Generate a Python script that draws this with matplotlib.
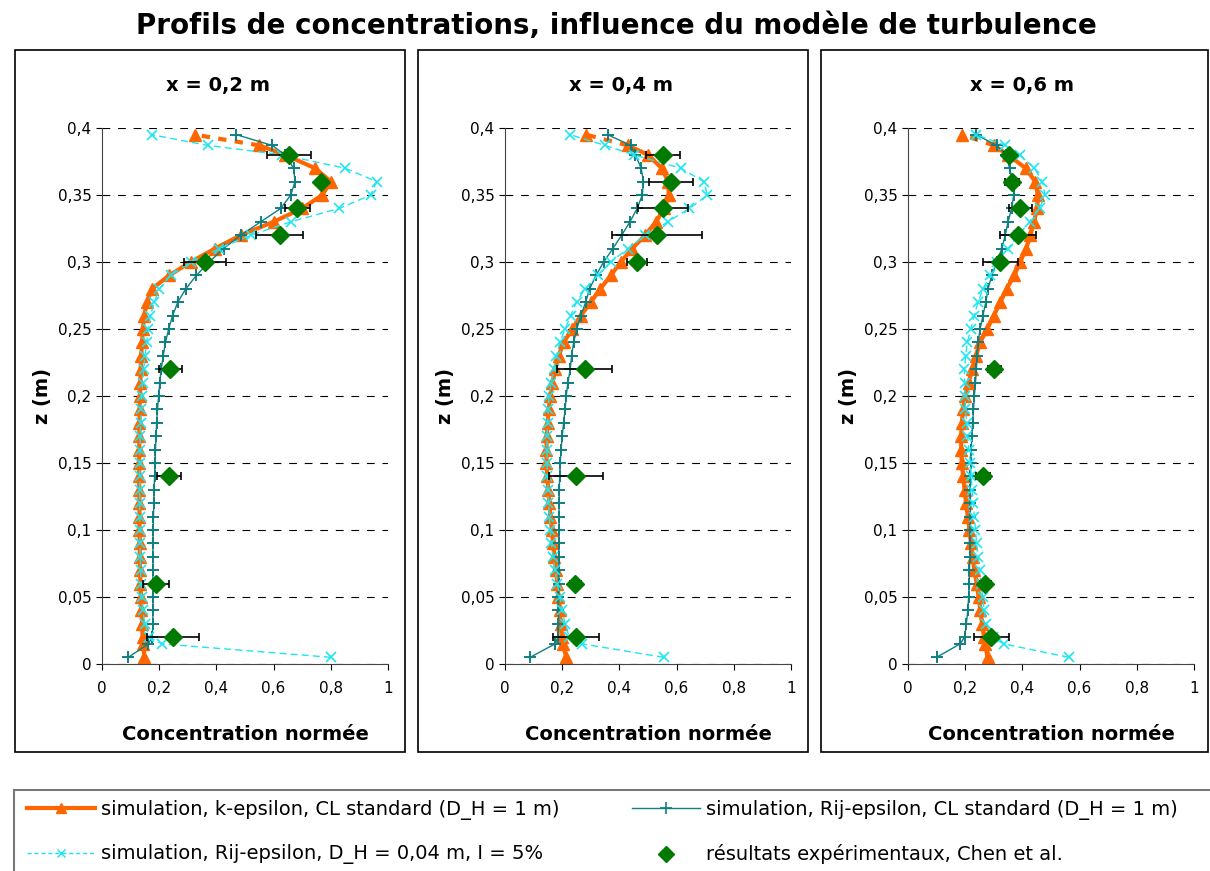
import matplotlib
matplotlib.use('Agg')
import matplotlib.pyplot as plt
from matplotlib.lines import Line2D
from matplotlib.patches import Rectangle
from matplotlib.ticker import MultipleLocator, FuncFormatter

plt.rcParams['font.family'] = 'DejaVu Sans'

# ---- data ----
Z = [0.005, 0.015, 0.02, 0.03, 0.04, 0.05, 0.06, 0.07, 0.08, 0.09, 0.10,
     0.11, 0.12, 0.13, 0.14, 0.15, 0.16, 0.17, 0.18, 0.19, 0.20, 0.21,
     0.22, 0.23, 0.24, 0.25, 0.26, 0.27, 0.28, 0.29, 0.30, 0.31, 0.32,
     0.33, 0.34, 0.35, 0.36, 0.37, 0.38, 0.387, 0.395]

# x = 0,2 m
K_EPS_02 = [0.148, 0.145, 0.142, 0.140, 0.138, 0.136, 0.134, 0.133, 0.132, 0.132, 0.131,
            0.131, 0.131, 0.130, 0.130, 0.130, 0.130, 0.131, 0.131, 0.132, 0.133, 0.134,
            0.135, 0.137, 0.140, 0.143, 0.148, 0.157, 0.175, 0.235, 0.310, 0.395, 0.485,
            0.600, 0.700, 0.770, 0.800, 0.745, 0.640, 0.550, 0.325]
RIJ_02 = [0.092, 0.162, 0.175, 0.178, 0.178, 0.178, 0.178, 0.178, 0.178, 0.178, 0.179,
          0.180, 0.181, 0.182, 0.184, 0.185, 0.187, 0.189, 0.191, 0.194, 0.198, 0.202,
          0.207, 0.214, 0.222, 0.233, 0.247, 0.265, 0.293, 0.330, 0.375, 0.425, 0.485,
          0.555, 0.625, 0.660, 0.675, 0.670, 0.640, 0.595, 0.470]
RIJ_DH_02 = [0.800, 0.210, 0.165, 0.150, 0.143, 0.139, 0.137, 0.135, 0.134, 0.133, 0.133,
             0.132, 0.132, 0.132, 0.132, 0.132, 0.133, 0.134, 0.135, 0.137, 0.139, 0.142,
             0.146, 0.150, 0.156, 0.162, 0.169, 0.183, 0.200, 0.240, 0.310, 0.410, 0.520,
             0.660, 0.830, 0.940, 0.960, 0.850, 0.630, 0.370, 0.174]

# x = 0,4 m
K_EPS_04 = [0.214, 0.202, 0.198, 0.195, 0.191, 0.187, 0.183, 0.178, 0.173, 0.168, 0.164,
            0.159, 0.155, 0.151, 0.148, 0.145, 0.145, 0.146, 0.149, 0.153, 0.158, 0.166,
            0.176, 0.188, 0.205, 0.235, 0.265, 0.300, 0.333, 0.370, 0.405, 0.445, 0.490,
            0.528, 0.557, 0.573, 0.570, 0.548, 0.500, 0.430, 0.284]
RIJ_04 = [0.088, 0.175, 0.185, 0.187, 0.187, 0.187, 0.188, 0.188, 0.188, 0.189, 0.189,
          0.189, 0.189, 0.190, 0.191, 0.193, 0.196, 0.200, 0.205, 0.210, 0.214, 0.220,
          0.228, 0.233, 0.240, 0.251, 0.265, 0.282, 0.296, 0.318, 0.345, 0.377, 0.408,
          0.437, 0.462, 0.480, 0.484, 0.476, 0.456, 0.440, 0.359]
RIJ_DH_04 = [0.555, 0.270, 0.225, 0.210, 0.200, 0.192, 0.183, 0.175, 0.168, 0.162, 0.158,
             0.155, 0.152, 0.150, 0.148, 0.147, 0.147, 0.147, 0.149, 0.151, 0.154, 0.161,
             0.170, 0.180, 0.192, 0.210, 0.230, 0.250, 0.280, 0.325, 0.370, 0.430, 0.490,
             0.570, 0.645, 0.708, 0.695, 0.614, 0.450, 0.350, 0.228]

# x = 0,6 m
K_EPS_06 = [0.278, 0.270, 0.266, 0.259, 0.253, 0.247, 0.240, 0.232, 0.226, 0.220, 0.215,
            0.209, 0.203, 0.198, 0.193, 0.188, 0.186, 0.186, 0.188, 0.193, 0.200, 0.212,
            0.224, 0.238, 0.252, 0.277, 0.300, 0.323, 0.345, 0.372, 0.392, 0.413, 0.428,
            0.440, 0.452, 0.454, 0.445, 0.411, 0.350, 0.300, 0.190]
RIJ_06 = [0.100, 0.182, 0.198, 0.204, 0.209, 0.212, 0.214, 0.215, 0.216, 0.217, 0.218,
          0.218, 0.218, 0.218, 0.218, 0.219, 0.221, 0.223, 0.226, 0.229, 0.232, 0.236,
          0.239, 0.242, 0.245, 0.252, 0.262, 0.272, 0.280, 0.293, 0.311, 0.328, 0.340,
          0.350, 0.362, 0.370, 0.366, 0.355, 0.343, 0.310, 0.239]
RIJ_DH_06 = [0.562, 0.334, 0.297, 0.274, 0.266, 0.261, 0.255, 0.250, 0.245, 0.240, 0.236,
             0.232, 0.228, 0.224, 0.221, 0.218, 0.213, 0.208, 0.205, 0.201, 0.199, 0.198,
             0.197, 0.202, 0.207, 0.220, 0.231, 0.245, 0.262, 0.288, 0.311, 0.350, 0.386,
             0.425, 0.460, 0.479, 0.470, 0.442, 0.390, 0.340, 0.239]

# experimental points (Chen et al.) with horizontal error bars
Z_EXP = [0.02, 0.06, 0.14, 0.22, 0.30, 0.32, 0.34, 0.36, 0.38]
EXP_02 = [0.249, 0.188, 0.235, 0.238, 0.360, 0.622, 0.683, 0.766, 0.654]
ERR_02 = [0.090, 0.045, 0.042, 0.040, 0.074, 0.082, 0.043, 0.015, 0.078]
EXP_04 = [0.248, 0.246, 0.247, 0.278, 0.462, 0.532, 0.552, 0.581, 0.552]
ERR_04 = [0.080, 0.020, 0.094, 0.095, 0.036, 0.158, 0.088, 0.076, 0.060]
EXP_06 = [0.291, 0.270, 0.262, 0.302, 0.323, 0.384, 0.393, 0.364, 0.352]
ERR_06 = [0.061, 0.020, 0.025, 0.022, 0.062, 0.063, 0.039, 0.024, 0.018]

PANEL_TITLES = ['x = 0,2 m', 'x = 0,4 m', 'x = 0,6 m']
LABELS = ['simulation, k-epsilon, CL standard (D_H = 1 m)',
          'simulation, Rij-epsilon, D_H = 0,04 m, I = 5%',
          'simulation, Rij-epsilon, CL standard (D_H = 1 m)',
          'résultats expérimentaux, Chen et al.']

ORANGE = '#ff6600'
TEAL = '#0f7f80'
CYAN = '#1ee6f0'
GREEN = '#007a00'

W, H = 1210, 871


def fx(px):
    return px / W


def fy(py):
    return 1 - py / H


def comma(v, pos):
    return f'{v:g}'.replace('.', ',')


fig = plt.figure(figsize=(W / 100, H / 100), dpi=100)

fig.text(fx(616), fy(26), 'Profils de concentrations, influence du modèle de turbulence',
         ha='center', va='center', fontsize=20, fontweight='bold')

# frame left/right, axes left (pixels)
layout = [(15, 405, 102), (418, 808, 505), (821, 1208, 908)]
series = [(K_EPS_02, RIJ_02, RIJ_DH_02, EXP_02, ERR_02),
          (K_EPS_04, RIJ_04, RIJ_DH_04, EXP_04, ERR_04),
          (K_EPS_06, RIJ_06, RIJ_DH_06, EXP_06, ERR_06)]

for (left, right, axl), (kc, rc, dc, ec, er), title in zip(layout, series, PANEL_TITLES):
    fig.add_artist(Rectangle((fx(left), fy(752)), (right - left) / W, (752 - 50) / H,
                             transform=fig.transFigure, fill=False, ec='black', lw=1.2))
    fig.text(fx((left + right) / 2 + 8), fy(85), title, ha='center', va='center',
             fontsize=14, fontweight='bold')

    ax = fig.add_axes([fx(axl), fy(664), 286 / W, 536 / H])

    # k-epsilon: solid line, last (top) segment dashed
    ax.plot(kc[:-1], Z[:-1], color=ORANGE, lw=3, zorder=2)
    ax.plot(kc[-2:], Z[-2:], color=ORANGE, lw=3, ls=(0, (2, 2)), zorder=2)
    ax.plot(kc, Z, ls='none', marker='^', ms=8, color=ORANGE, zorder=2)

    ax.plot(rc, Z, color=TEAL, lw=1, marker='+', ms=9, mew=1.4, zorder=3)
    ax.plot(dc, Z, color=CYAN, lw=1, ls=(0, (5, 3)), marker='x', ms=7.5, mew=1.2, zorder=3)

    ax.errorbar(ec, Z_EXP, xerr=er, fmt='none', ecolor='black', elinewidth=1.2,
                capsize=3, capthick=1.2, zorder=4)
    ax.plot(ec, Z_EXP, ls='none', marker='D', ms=9, color=GREEN, zorder=5)

    ax.set_xlim(0, 1)
    ax.set_ylim(0, 0.4)
    ax.xaxis.set_major_locator(MultipleLocator(0.2))
    ax.yaxis.set_major_locator(MultipleLocator(0.05))
    ax.xaxis.set_major_formatter(FuncFormatter(comma))
    ax.yaxis.set_major_formatter(FuncFormatter(comma))
    ax.yaxis.grid(True, color='black', ls=(0, (7, 7)), lw=0.8)
    ax.set_axisbelow(True)
    for s in ['top', 'right']:
        ax.spines[s].set_visible(False)
    for s in ['left', 'bottom']:
        ax.spines[s].set_color('#444444')
    ax.tick_params(axis='both', direction='out', length=4, width=0.8, labelsize=11)
    ax.tick_params(axis='x', pad=8)
    ax.set_xlabel('Concentration normée', fontsize=14, fontweight='bold')
    ax.xaxis.set_label_coords(0.5, -0.113)
    ax.set_ylabel('z (m)', fontsize=14, fontweight='bold')
    ax.yaxis.set_label_coords(-0.175, 0.5)

# legend box, running off the bottom-right of the figure
fig.add_artist(Rectangle((fx(14), fy(885)), (1230 - 14) / W, (885 - 790) / H,
                         transform=fig.transFigure, fill=False, ec='#777777', lw=1.5))

h_k = Line2D([], [], color=ORANGE, lw=3, marker='^', ms=7)
h_dh = Line2D([], [], color=CYAN, lw=1, ls=(0, (3, 2)), marker='x', ms=6, mew=1)
h_r = Line2D([], [], color=TEAL, lw=1, marker='+', ms=8, mew=1.2)
h_e = Line2D([], [], ls='none', marker='D', ms=8, color=GREEN)

leg_kw = dict(loc='upper left', frameon=False, fontsize=14, handlelength=3.5,
              handletextpad=0.3, labelspacing=1.25, borderpad=0, borderaxespad=0)
fig.legend([h_k, h_dh], LABELS[:2], bbox_to_anchor=(fx(27), fy(800)), **leg_kw)
fig.legend([h_r, h_e], LABELS[2:], bbox_to_anchor=(fx(632), fy(800)), **leg_kw)

fig.savefig('out.png', dpi=100)
